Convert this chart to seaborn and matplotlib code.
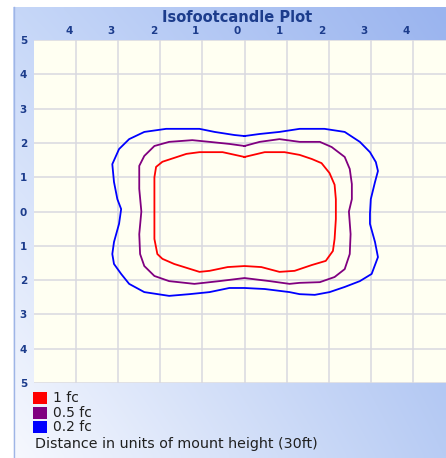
import numpy as np
import pandas as pd
import matplotlib
matplotlib.use("Agg")
import matplotlib.pyplot as plt
from matplotlib.patches import Rectangle
from matplotlib.lines import Line2D
from matplotlib.transforms import ScaledTranslation
import seaborn as sns

# ---------------- data (units of mount height) ----------------
levels = ["1 fc", "0.5 fc", "0.2 fc"]
level_colors = ["#ff0000", "#800080", "#0000ff"]

red_x = [0.00, 0.48, 0.95, 1.31, 1.60, 1.83, 2.02, 2.14, 2.17, 2.17, 2.14, 2.10, 1.93, 1.60, 1.19, 0.83, 0.40, 0.00,
         -0.40, -0.83, -1.07, -1.67, -1.95, -2.07, -2.14, -2.14, -2.14, -2.10, -1.95, -1.38, -1.07, -0.52]
red_y = [1.59, 1.73, 1.73, 1.65, 1.53, 1.41, 1.12, 0.78, 0.36, -0.22, -0.80, -1.15, -1.44, -1.56, -1.73, -1.76, -1.62, -1.59,
         -1.62, -1.73, -1.76, -1.53, -1.38, -1.24, -0.80, 0.00, 1.00, 1.30, 1.45, 1.68, 1.73, 1.73]

purple_x = [0.00, 0.36, 0.83, 1.31, 1.79, 2.07, 2.38, 2.50, 2.55, 2.55, 2.48, 2.52, 2.50, 2.38, 2.14, 1.79, 1.31, 1.07, 0.60, 0.00,
            -0.60, -1.19, -1.79, -2.14, -2.38, -2.48, -2.50, -2.45, -2.50, -2.50, -2.38, -2.14, -1.79, -1.24, -0.83, -0.36]
purple_y = [1.91, 2.03, 2.11, 2.03, 2.03, 1.88, 1.59, 1.24, 0.80, 0.36, 0.00, -0.66, -1.24, -1.68, -1.91, -2.06, -2.08, -2.11, -2.03, -1.94,
            -2.03, -2.11, -2.03, -1.88, -1.59, -1.24, -0.66, 0.00, 0.66, 1.33, 1.62, 1.91, 2.03, 2.08, 2.03, 1.97]

blue_x = [0.00, 0.36, 0.83, 1.31, 1.90, 2.38, 2.74, 2.98, 3.12, 3.17, 3.10, 3.00, 2.98, 2.98, 3.10, 3.17, 3.02, 2.74, 2.38, 2.02,
          1.67, 1.31, 1.07, 0.48, 0.00, -0.36, -0.83, -1.31, -1.79, -2.38, -2.74, -2.93, -3.10, -3.14, -3.10, -2.98, -2.93,
          -3.02, -3.10, -3.14, -2.98, -2.74, -2.38, -1.86, -1.07, -0.71, -0.24]
blue_y = [2.20, 2.26, 2.32, 2.41, 2.41, 2.32, 2.03, 1.73, 1.44, 1.18, 0.86, 0.36, -0.07, -0.36, -0.89, -1.33, -1.82, -2.03, -2.20, -2.35,
          -2.43, -2.41, -2.35, -2.26, -2.23, -2.23, -2.35, -2.41, -2.46, -2.35, -2.11, -1.82, -1.53, -1.24, -0.89, -0.36, 0.07,
          0.36, 0.86, 1.38, 1.82, 2.11, 2.32, 2.41, 2.41, 2.32, 2.23]

x_ticks = [-4, -3, -2, -1, 0, 1, 2, 3, 4]
x_tick_labels = ["4", "3", "2", "1", "0", "1", "2", "3", "4"]
y_ticks = [-5, -4, -3, -2, -1, 0, 1, 2, 3, 4, 5]
y_tick_labels = ["5", "4", "3", "2", "1", "0", "1", "2", "3", "4", "5"]

title = "Isofootcandle Plot"
caption = "Distance in units of mount height (30ft)"

# ---------------- build long-form table ----------------
frames = []
for lvl, xs, ys in zip(levels, [red_x, purple_x, blue_x], [red_y, purple_y, blue_y]):
    xs = list(xs) + [xs[0]]
    ys = list(ys) + [ys[0]]
    frames.append(pd.DataFrame({"x": xs, "y": ys, "level": lvl, "idx": range(len(xs))}))
df = pd.concat(frames, ignore_index=True)

# ---------------- figure ----------------
W, H = 446, 458
dpi = 100
fig = plt.figure(figsize=(W / dpi, H / dpi), dpi=dpi)
fig.patch.set_facecolor("white")

# gradient panel background
px0, py0 = 13, 7
bg = fig.add_axes([px0 / W, 0, 1 - px0 / W, (H - py0) / H])
bg.set_axis_off()
tl = np.array([0xc6, 0xd7, 0xf8]) / 255
tr = np.array([0x9a, 0xb4, 0xef]) / 255
bl = np.array([0xf6, 0xf8, 0xfe]) / 255
br = np.array([0xb8, 0xcc, 0xf4]) / 255
ny, nx = 100, 100
u = np.linspace(0, 1, nx)[None, :, None]
v = np.linspace(0, 1, ny)[:, None, None]
grad = (1 - v) * ((1 - u) * tl + u * tr) + v * ((1 - u) * bl + u * br)
bg.imshow(grad, aspect="auto", extent=[0, 1, 0, 1], interpolation="bilinear")
bg.set_xlim(0, 1)
bg.set_ylim(0, 1)
fig.add_artist(Line2D([px0 / W + 0.5 / W] * 2, [0, (H - py0) / H], color="#9fb5e6", lw=1.0))

# main plot axes (extends past the right edge like the reference)
left_px, right_px, top_px, bot_px = 34, 455, 40, 383
ax = fig.add_axes([left_px / W, (H - bot_px) / H, (right_px - left_px) / W, (bot_px - top_px) / H])
ax.set_facecolor("#fffff2")

sns.lineplot(data=df, x="x", y="y", hue="level", hue_order=levels, palette=level_colors,
             sort=False, estimator=None, units="level", lw=1.3, ax=ax, legend=False)

ax.set_xlim(-5, 5)
ax.set_ylim(-5, 5)
ax.set_xticks(x_ticks)
ax.set_xticklabels(x_tick_labels)
ax.set_yticks(y_ticks)
ax.set_yticklabels(y_tick_labels)
ax.xaxis.tick_top()
ax.tick_params(axis="both", length=0, labelsize=7.5, labelcolor="#1c3c8c")
ax.tick_params(axis="x", pad=3)
ax.tick_params(axis="y", pad=5)
for lab in ax.get_xticklabels() + ax.get_yticklabels():
    lab.set_fontweight("bold")
for lab in ax.get_xticklabels():
    lab.set_transform(lab.get_transform() + ScaledTranslation(-7 / dpi, 0, fig.dpi_scale_trans))
ax.grid(True, color="#d9d9e0", lw=1.1)
ax.set_axisbelow(True)
ax.set_xlabel("")
ax.set_ylabel("")
for s in ax.spines.values():
    s.set_visible(False)

# title
fig.text(237 / W, 1 - 17 / H, title, ha="center", va="center", fontsize=10.5,
         fontweight="bold", color="#1c3c8c")

# legend (manual, below the plot)
rows_y = [398, 413, 427]
for lab, col, ry in zip(levels, level_colors, rows_y):
    fig.add_artist(Rectangle((33 / W, 1 - (ry + 6) / H), 14 / W, 12 / H, transform=fig.transFigure,
                             facecolor=col, edgecolor="none"))
    fig.text(53 / W, 1 - ry / H, lab, ha="left", va="center", fontsize=10, color="#202020")
fig.text(35 / W, 1 - 444 / H, caption, ha="left", va="center", fontsize=10.3, color="#202020")

fig.savefig("out.png", dpi=dpi)
